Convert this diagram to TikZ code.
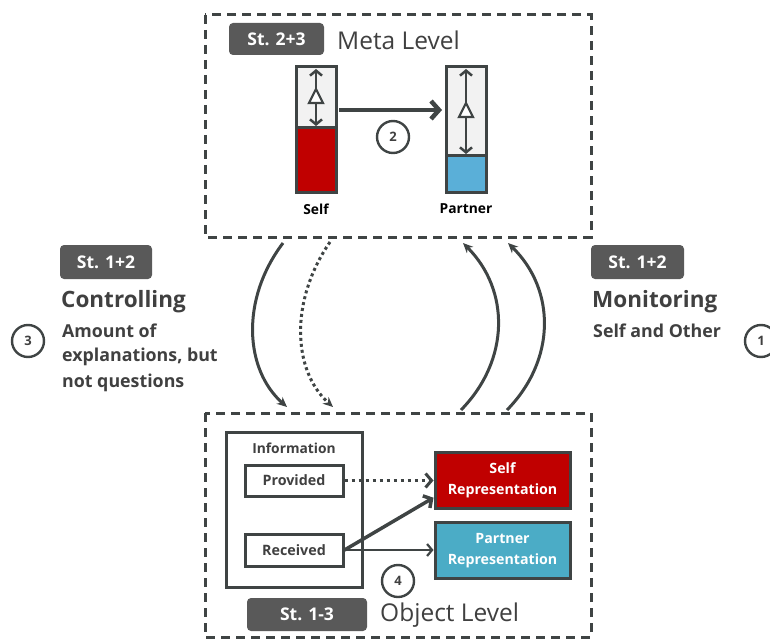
\documentclass[tikz,border=0pt]{standalone}
\usepackage{fontspec}
\setmainfont{Open Sans}
\usetikzlibrary{arrows.meta,calc}
\definecolor{dk}{HTML}{3F4444}
\definecolor{badgegray}{HTML}{595959}
\definecolor{myred}{HTML}{C00000}
\definecolor{metablue}{HTML}{5AAFD8}
\definecolor{repblue}{HTML}{4BACC6}
\definecolor{barbg}{HTML}{F2F2F2}
\definecolor{txt}{HTML}{404040}
\tikzset{
  frame/.style={draw=dk, line width=3pt, dash pattern=on 9pt off 6pt},
  badge/.style={fill=badgegray, rounded corners=4pt, text=white, font=\bfseries\fontsize{17.5}{20}\selectfont, inner sep=0pt},
  levellabel/.style={anchor=west, text=txt, font=\fontsize{24.5}{28}\selectfont, inner sep=0pt},
  numcirc/.style={circle, draw=dk, fill=white, line width=2.4pt, minimum size=32pt, inner sep=0pt, text=txt, font=\bfseries\fontsize{13}{15}\selectfont},
  bar/.style={draw=dk, line width=3pt, fill=barbg, minimum width=40pt, minimum height=125pt, inner sep=0pt},
  barlabel/.style={font=\bfseries\fontsize{13.8}{16}\selectfont, inner sep=0pt},
  infobox/.style={draw=dk, line width=3pt, fill=white, inner sep=0pt},
  rep/.style={draw=dk, line width=3pt, minimum width=135pt, minimum height=56pt, inner sep=0pt, text=white, align=center, font=\bfseries\fontsize{14.2}{21}\selectfont},
  bigarrow/.style={draw=dk, line width=3pt, -{Stealth[length=10pt,width=9pt]}},
  barb/.style={-{Straight Barb[length=6pt,width=14pt,line width=3pt]}},
  heading/.style={anchor=west, text=txt, inner sep=0pt, font=\bfseries\fontsize{22.5}{26}\selectfont},
  sub/.style={anchor=west, text=txt, inner sep=0pt, font=\bfseries\fontsize{17.8}{20}\selectfont},
  smallbox/.style={infobox, minimum width=98pt, text=txt, font=\bfseries\fontsize{14.3}{16}\selectfont},
  dblarrow/.style={dk, line width=2.5pt, {Straight Barb[length=5pt,width=12pt,line width=2.5pt]}-{Straight Barb[length=5pt,width=12pt,line width=2.5pt]}},
}
\begin{document}
\begin{tikzpicture}[x=1pt,y=-1pt]
\useasboundingbox (0,0) rectangle (770,639);
% frames
\draw[frame] (205,15) rectangle (591,237);
\draw[frame] (205,413) rectangle (591,637);

% meta level
\node[badge, minimum width=95pt, minimum height=32pt] (b23) at (276.5,39) {St. 2+3};
\node[levellabel] (meta) at (337,40) {Meta Level};

\node[bar] (selfbar) at (316,129.5) {};
\fill[myred] (297.5,128) rectangle (334.5,190.5);
\draw[dk, line width=3pt] (296,128) -- (336,128);
\node[bar, fill=none] at (316,129.5) {};

\node[bar] (partbar) at (466,129.5) {};
\fill[metablue] (447.5,156) rectangle (484.5,190.5);
\draw[dk, line width=3pt] (446,156) -- (486,156);
\node[bar, fill=none] at (466,129.5) {};

\coordinate (st) at (316,69);
\coordinate (sb) at (316,126);
\draw[dblarrow] (st) -- (sb);
\draw[dk, line width=2.2pt, fill=white, line join=miter] (309,103) -- (323,103) -- (316,89) -- cycle;
\coordinate (pt) at (466,69);
\coordinate (pb) at (466,154);
\draw[dblarrow] (pt) -- (pb);
\draw[dk, line width=2.2pt, fill=white, line join=miter] (459,117) -- (473,117) -- (466,103) -- cycle;

\coordinate (a2s) at (339,110);
\coordinate (a2e) at (442,110);
\draw[dk, line width=4.5pt, -{Straight Barb[length=8pt,width=18pt,line width=4.5pt]}] (a2s) -- (a2e);
\node[numcirc] (n2) at (393,137) {2};

\node[barlabel] (selflab) at (316,209) {Self};
\node[barlabel] (partlab) at (466,209) {Partner};

% left labels
\node[badge, minimum width=92pt, minimum height=34pt] (b12l) at (106,262) {St. 1+2};
\node[heading] (ctrl) at (61,302) {Controlling};
\node[sub] (c1) at (62,331) {Amount of};
\node[sub] (c2) at (62,357) {explanations, but};
\node[sub] (c3) at (62,383) {not questions};
\node[numcirc] (n3) at (28,341) {3};

% right labels
\node[badge, minimum width=93pt, minimum height=34pt] (b12r) at (637.5,262) {St. 1+2};
\node[heading] (mon) at (592,302) {Monitoring};
\node[sub] (m1) at (593,331) {Self and Other};
\node[numcirc] (n1) at (761,341) {1};

% curved arrows
\coordinate (c1s) at (283,243);
\coordinate (c1e) at (287,407);
\draw[bigarrow] (c1s) .. controls (240,300) and (245,370) .. (c1e);
\coordinate (c2s) at (330,242);
\coordinate (c2e) at (333,407);
\draw[bigarrow, dash pattern=on 3pt off 3pt] (c2s) .. controls (290,300) and (292,370) .. (c2e);
\coordinate (m1s) at (461,410);
\coordinate (m1e) at (463,243);
\draw[bigarrow] (m1s) .. controls (510,360) and (510,290) .. (m1e);
\coordinate (m2s) at (507,410);
\coordinate (m2e) at (508,243);
\draw[bigarrow] (m2s) .. controls (556,360) and (556,290) .. (m2e);

% object level
\node[infobox, minimum width=136pt, minimum height=155pt] (info) at (294,509.5) {};
\node[barlabel, text=txt] (infolab) at (294,448) {Information};
\node[smallbox, minimum height=31pt] (prov) at (294,480.5) {Provided};
\node[smallbox, minimum height=32pt] (rec) at (294,550) {Received};
\node[rep, fill=myred] (selfrep) at (502.5,480.5) {Self\\Representation};
\node[rep, fill=repblue] (partrep) at (502.5,550.5) {Partner\\Representation};

\draw[dk, line width=3.5pt, dash pattern=on 3pt off 4pt, barb] (prov.east) -- (selfrep.west);
\draw[dk, line width=3.5pt, -{Straight Barb[length=6pt,width=14pt,line width=3.5pt]}] (rec.east) -- (selfrep.194);
\draw[dk, line width=2.2pt, -{Straight Barb[length=5pt,width=12pt,line width=2.2pt]}] (rec.east) -- (partrep.west |- rec.east);

\node[numcirc] (n4) at (398,581) {4};
\node[badge, minimum width=120pt, minimum height=33pt] (b13) at (307,614.5) {St. 1-3};
\node[levellabel] (obj) at (380,615) {Object Level};
\end{tikzpicture}
\end{document}
